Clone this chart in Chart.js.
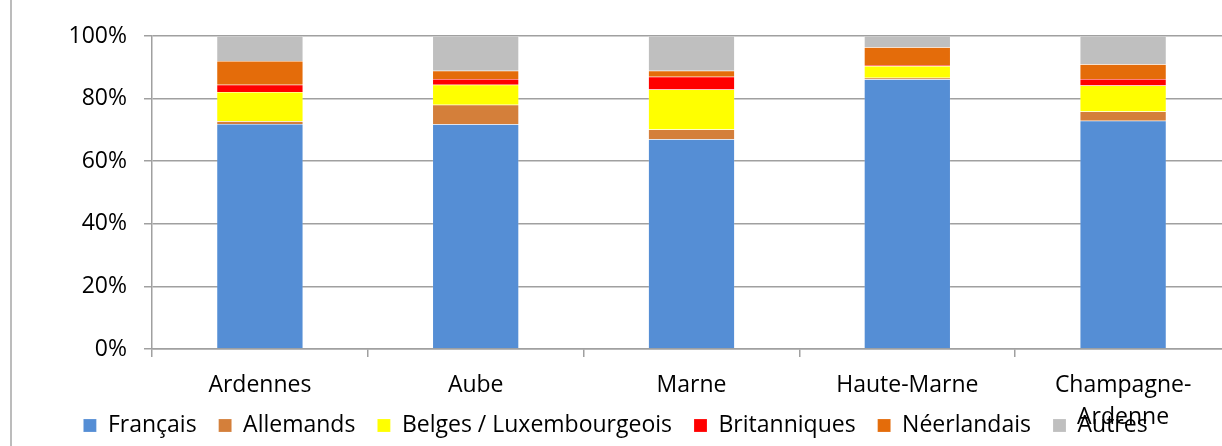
<!DOCTYPE html>
<html>
<head>
<meta charset="utf-8">
<script src="https://cdn.jsdelivr.net/npm/chart.js@4"></script>
<style>
  body { margin: 0; overflow: hidden; background: #fff; }
  #wrap { width: 1240px; height: 446px; position: relative; }
</style>
</head>
<body>
<div id="wrap"><canvas id="chart"></canvas></div>
<script>
const regions = ['Ardennes', 'Aube', 'Marne', 'Haute-Marne', ['Champagne-', 'Ardenne']];
const yTicks = [0, 20, 40, 60, 80, 100];

const francais = [71.9, 71.8, 67.0, 86.2, 72.9];
const allemands = [0.9, 6.2, 3.1, 0.5, 3.0];
const belges = [9.3, 6.4, 12.8, 3.7, 8.3];
const britanniques = [2.3, 1.9, 4.1, 0.3, 2.1];
const neerlandais = [7.6, 2.6, 1.9, 5.7, 4.7];
const autres = [8.0, 11.1, 11.1, 3.6, 9.0];

const FONT = { family: '"Open Sans", "Noto Sans", sans-serif', size: 23 };
const GRID = '#a0a0a0';

// chart frame edge seen on the left of the picture
const frameLine = {
  id: 'frameLine',
  beforeDraw(chart) {
    const ctx = chart.ctx;
    ctx.save();
    ctx.strokeStyle = '#a6a6a6';
    ctx.lineWidth = 1.5;
    ctx.beginPath();
    ctx.moveTo(11, 0);
    ctx.lineTo(11, chart.height);
    ctx.stroke();
    ctx.restore();
  }
};

function ds(label, data, color) {
  return {
    label,
    data,
    backgroundColor: color,
    borderColor: 'rgba(255,255,255,0.35)',
    borderWidth: 0.5,
    barPercentage: 0.4,
    categoryPercentage: 1
  };
}

new Chart(document.getElementById('chart'), {
  type: 'bar',
  data: {
    labels: regions,
    datasets: [
      ds('Français', francais, '#558ed5'),
      ds('Allemands', allemands, '#d47f3a'),
      ds('Belges / Luxembourgeois', belges, '#ffff00'),
      ds('Britanniques', britanniques, '#ff0000'),
      ds('Néerlandais', neerlandais, '#e46c0a'),
      ds('Autres', autres, '#bfbfbf')
    ]
  },
  options: {
    responsive: true,
    maintainAspectRatio: false,
    animation: false,
    layout: { padding: { top: 36, right: 9, bottom: -1, left: 0 } },
    plugins: {
      legend: {
        position: 'bottom',
        labels: {
          color: '#000',
          font: FONT,
          boxWidth: 13,
          boxHeight: 13,
          padding: 22
        }
      },
      tooltip: { enabled: false }
    },
    scales: {
      x: {
        stacked: true,
        afterFit: s => {
          s.height = 43;
          // let the wrapped label run over the legend, as in the original
          s._computeLabelArea = () => undefined;
        },
        grid: {
          offset: true,
          drawOnChartArea: false,
          color: GRID,
          lineWidth: 1.5,
          tickLength: 8
        },
        border: { color: GRID, width: 1.5 },
        ticks: { color: '#000', font: { ...FONT, lineHeight: 1.38 }, padding: 13, maxRotation: 0 }
      },
      y: {
        stacked: true,
        min: 0,
        max: 100,
        afterFit: s => { s.width = 152; },
        afterBuildTicks: s => { s.ticks = yTicks.map(v => ({ value: v })); },
        grid: { color: GRID, lineWidth: 1.5, tickLength: 8 },
        border: { color: GRID, width: 1.5 },
        ticks: {
          color: '#000',
          font: FONT,
          padding: 17,
          callback: v => v + '%'
        }
      }
    }
  },
  plugins: [frameLine]
});
</script>
</body>
</html>
